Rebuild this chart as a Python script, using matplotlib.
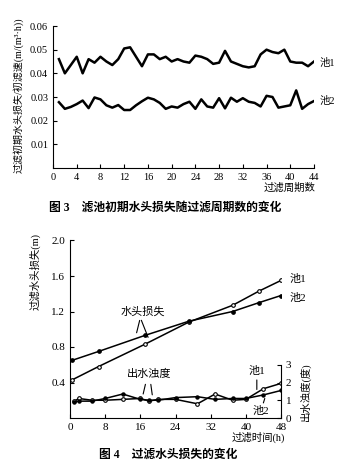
import matplotlib.pyplot as plt
import numpy as np

plt.rcParams['font.family'] = ['Liberation Serif', 'Noto Sans CJK SC']

# figure 3: initial head loss vs filter cycle
cycles = np.arange(1, 45)
pool1_init = [0.046, 0.040, 0.0435, 0.047, 0.040, 0.046, 0.0445, 0.047, 0.045, 0.0435,
              0.046, 0.0505, 0.051, 0.047, 0.043, 0.048, 0.048, 0.046, 0.047, 0.045,
              0.046, 0.045, 0.0445, 0.0475, 0.047, 0.046, 0.044, 0.0445, 0.0495, 0.045,
              0.044, 0.043, 0.0425, 0.043, 0.048, 0.050, 0.049, 0.0485, 0.050, 0.045,
              0.0445, 0.0445, 0.043, 0.045]
pool2_init = [0.0278, 0.025, 0.0258, 0.027, 0.0285, 0.0253, 0.0298, 0.029, 0.0265, 0.0255,
              0.0266, 0.0245, 0.0245, 0.0265, 0.0282, 0.0297, 0.029, 0.0275, 0.025, 0.026,
              0.0255, 0.027, 0.028, 0.025, 0.029, 0.026, 0.0255, 0.0295, 0.0252, 0.0297,
              0.028, 0.0295, 0.028, 0.0275, 0.026, 0.0305, 0.030, 0.0255, 0.026, 0.0265,
              0.0328, 0.025, 0.027, 0.0283]

# figure 4: head loss and effluent turbidity vs time
hl_time = [0.5, 6.5, 17, 27, 37, 43, 48]
pool1_hl = [0.43, 0.58, 0.83, 1.08, 1.27, 1.43, 1.55]
pool2_hl = [0.65, 0.75, 0.93, 1.09, 1.20, 1.30, 1.38]

tb_time = [1, 2, 5, 8, 12, 16, 18, 20, 24, 29, 33, 37, 40, 44, 48]
pool1_tb = [0.95, 1.1, 1.0, 1.0, 1.05, 1.1, 0.95, 1.05, 1.05, 0.8, 1.35, 1.0, 1.05, 1.65, 1.95]
pool2_tb = [0.9, 0.95, 0.95, 1.1, 1.35, 1.05, 1.0, 1.0, 1.15, 1.2, 1.05, 1.1, 1.1, 1.3, 1.55]

W, H = 345, 465
fig = plt.figure(figsize=(W / 100, H / 100), dpi=100)


def fx(px):
    return px / W


def fy(py):
    return 1 - py / H


# ---- figure 3 ----
ax1 = fig.add_axes([fx(53), fy(168), fx(261), 142 / H])
ax1.plot(cycles, pool1_init, color='black', lw=1.8)
ax1.plot(cycles, pool2_init, color='black', lw=1.8)
ax1.set_xlim(0, 44)
ax1.set_ylim(0, 0.06)
ax1.set_xticks(np.arange(0, 45, 4))
ax1.set_yticks([0.01, 0.02, 0.03, 0.04, 0.05, 0.06])
ax1.set_yticklabels(['0.01', '0.02', '0.03', '0.04', '0.05', '0.06'])
ax1.spines['top'].set_visible(False)
ax1.spines['right'].set_visible(False)
ax1.tick_params(direction='in', length=3, labelsize=7.5, width=0.8)
ax1.text(45.0, pool1_init[-1] - 0.0005, '池1', fontsize=7.5, va='center')
ax1.text(45.0, pool2_init[-1], '池2', fontsize=7.5, va='center')

fig.text(fx(18), fy(95), '过滤初期水头损失/初滤速(m/(m³·h))', rotation=90,
         fontsize=7.2, ha='center', va='center')
fig.text(fx(315), fy(188), '过滤周期数', fontsize=7.5, ha='right', va='center')
fig.text(fx(165), fy(208), '图 3    滤池初期水头损失随过滤周期数的变化',
         fontsize=8.5, fontweight='bold', ha='center', va='center')

# ---- figure 4 ----
ax2 = fig.add_axes([fx(70), fy(418), fx(211), 177.5 / H])
ax2.plot(hl_time, pool1_hl, color='black', lw=1.1, marker='o', ms=2.6,
         mfc='white', mec='black', mew=0.8)
ax2.plot(hl_time, pool2_hl, color='black', lw=1.1, marker='o', ms=2.4,
         mfc='black', mec='black')
ax2.set_xlim(0, 48)
ax2.set_ylim(0, 2.0)
ax2.set_xticks(np.arange(0, 49, 8))
ax2.set_yticks([0.4, 0.8, 1.2, 1.6, 2.0])
ax2.spines['top'].set_visible(False)
ax2.spines['right'].set_visible(False)
ax2.tick_params(direction='in', length=3, labelsize=8, width=0.8)

ax3 = ax2.twinx()
ax3.plot(tb_time, pool1_tb, color='black', lw=1.1, marker='o', ms=2.6,
         mfc='white', mec='black', mew=0.8)
ax3.plot(tb_time, pool2_tb, color='black', lw=1.1, marker='o', ms=2.2,
         mfc='black', mec='black')
ax3.set_ylim(0, 10)
ax3.set_yticks([0, 1, 2, 3])
ax3.spines['top'].set_visible(False)
ax3.spines['left'].set_visible(False)
ax3.spines['bottom'].set_visible(False)
ax3.spines['right'].set_bounds(0, 3)
ax3.tick_params(direction='in', length=3, labelsize=8, width=0.8)

# annotations
ax2.text(50.0, pool1_hl[-1] + 0.02, '池1', fontsize=8, va='center')
ax2.text(50.0, pool2_hl[-1] - 0.03, '池2', fontsize=8, va='center')
ax2.text(16.5, 1.2, '水头损失', fontsize=8, ha='center', va='center')
ax2.annotate('', xy=(15, 0.93), xytext=(16, 1.13),
             arrowprops=dict(arrowstyle='-', lw=0.8, color='black'))
ax2.annotate('', xy=(18, 0.88), xytext=(16, 1.13),
             arrowprops=dict(arrowstyle='-', lw=0.8, color='black'))
ax3.text(18, 2.5, '出水浊度', fontsize=8, ha='center', va='center')
ax3.annotate('', xy=(16.5, 1.2), xytext=(17.3, 2.05),
             arrowprops=dict(arrowstyle='-', lw=0.8, color='black'))
ax3.annotate('', xy=(18.8, 1.15), xytext=(18.3, 2.05),
             arrowprops=dict(arrowstyle='-', lw=0.8, color='black'))
ax3.text(42.5, 2.65, '池1', fontsize=8, ha='center', va='center')
ax3.annotate('', xy=(42.5, 1.45), xytext=(42.5, 2.3),
             arrowprops=dict(arrowstyle='-', lw=0.8, color='black'))
ax3.text(43.5, 0.4, '池2', fontsize=8, ha='center', va='center')
ax3.annotate('', xy=(44.5, 1.25), xytext=(43.8, 0.7),
             arrowprops=dict(arrowstyle='-', lw=0.8, color='black'))

fig.text(fx(35), fy(272), '过滤水头损失(m)', rotation=90, fontsize=7.5,
         ha='center', va='center')
fig.text(fx(305), fy(392), '出水浊度(度)', rotation=90, fontsize=7.5,
         ha='center', va='center')
fig.text(fx(285), fy(437), '过滤时间(h)', fontsize=7.5, ha='right', va='center')
fig.text(fx(168), fy(455), '图 4    过滤水头损失的变化',
         fontsize=8.5, fontweight='bold', ha='center', va='center')

fig.savefig('out.png', dpi=100)
